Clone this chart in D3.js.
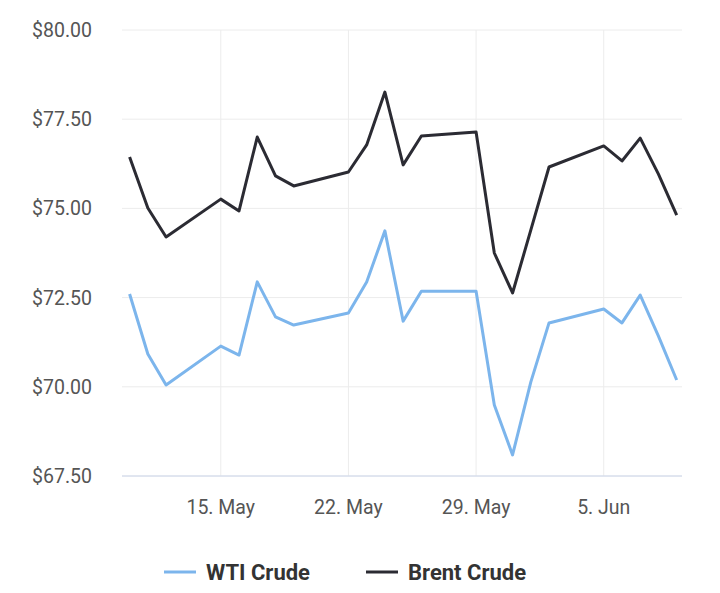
<!DOCTYPE html>
<html><head><meta charset="utf-8">
<script src="https://cdn.jsdelivr.net/npm/d3@7"></script>
<style>body{margin:0;background:#fff;font-family:Roboto,"Liberation Sans",sans-serif}</style>
</head><body><svg id="c" width="720" height="593"></svg>
<script>
const dates = ["2023-05-10","2023-05-11","2023-05-12","2023-05-15","2023-05-16","2023-05-17","2023-05-18","2023-05-19","2023-05-22","2023-05-23","2023-05-24","2023-05-25","2023-05-26","2023-05-29","2023-05-30","2023-05-31","2023-06-01","2023-06-02","2023-06-05","2023-06-06","2023-06-07","2023-06-08","2023-06-09"];
const wti = [72.60,70.92,70.05,71.14,70.89,72.94,71.96,71.73,72.07,72.94,74.37,71.84,72.68,72.68,69.49,68.09,70.13,71.79,72.18,71.79,72.57,71.42,70.19];
const brent = [76.44,75.01,74.20,75.26,74.93,77.00,75.91,75.63,76.02,76.78,78.26,76.22,77.03,77.14,73.75,72.63,74.39,76.16,76.75,76.33,76.97,75.96,74.81];
const yTicks = [67.5,70,72.5,75,77.5,80];
const xTicks = ["2023-05-15","2023-05-22","2023-05-29","2023-06-05"];
const xTickLabels = ["15. May","22. May","29. May","5. Jun"];
const seriesNames = ["WTI Crude","Brent Crude"];
const colors = ["#7cb5ec","#2b2b33"];

const svg = d3.select("#c");
const L=122,R=682,T=30,B=476;
const parse=d3.utcParse("%Y-%m-%d");
const x=d3.scaleUtc().domain([new Date(Date.UTC(2023,4,9,14)),new Date(Date.UTC(2023,5,9,7))]).range([L,R]);
const y=d3.scaleLinear().domain([67.5,80]).range([B,T]);
svg.append("g").selectAll("line").data(yTicks).join("line")
 .attr("x1",L).attr("x2",R).attr("y1",d=>y(d)).attr("y2",d=>y(d)).attr("stroke","#ececec");
svg.append("g").selectAll("line").data(xTicks).join("line")
 .attr("x1",d=>x(parse(d))).attr("x2",d=>x(parse(d))).attr("y1",T).attr("y2",B).attr("stroke","#ececec");
svg.append("line").attr("x1",L).attr("x2",R).attr("y1",B).attr("y2",B).attr("stroke","#ccd6eb");
svg.append("g").selectAll("text").data(yTicks).join("text")
 .attr("x",92).attr("y",d=>y(d)+7).attr("text-anchor","end").attr("font-size",19.5).attr("fill","#555")
 .text(d=>"$"+d.toFixed(2));
svg.append("g").selectAll("text").data(xTicks).join("text")
 .attr("x",d=>x(parse(d))).attr("y",B+38).attr("text-anchor","middle").attr("font-size",19.5).attr("fill","#555")
 .text((d,i)=>xTickLabels[i]);
const line=d3.line().x((d,i)=>x(parse(dates[i]))).y(d=>y(d));
[wti,brent].forEach((s,k)=>svg.append("path").attr("d",line(s)).attr("fill","none")
 .attr("stroke",colors[k]).attr("stroke-width",3).attr("stroke-linejoin","round"));
const lg=[{x:164,tx:206},{x:366,tx:408}];
lg.forEach((p,k)=>{
 svg.append("line").attr("x1",p.x).attr("x2",p.x+32).attr("y1",572).attr("y2",572).attr("stroke",colors[k]).attr("stroke-width",3);
 svg.append("text").attr("x",p.tx).attr("y",580).attr("font-size",22).attr("font-weight","bold").attr("fill","#333").text(seriesNames[k]);
});
</script></body></html>
